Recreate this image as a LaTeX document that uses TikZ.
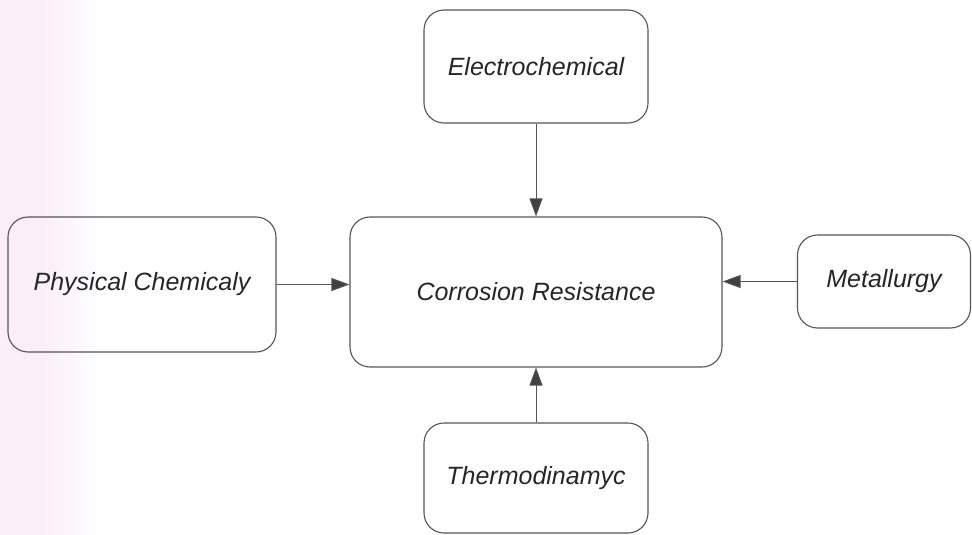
\documentclass[tikz,border=0pt]{standalone}
\usepackage{fontspec}
\setmainfont{Liberation Sans}
\usetikzlibrary{arrows.meta}
\definecolor{edge}{HTML}{555555}
\definecolor{pinkish}{HTML}{FAEEF8}
\begin{document}
\begin{tikzpicture}[x=1pt,y=-1pt,
  box/.style={draw=edge,line width=1.1pt,rounded corners=20pt,fill=none,
    inner sep=0pt,font=\fontsize{25}{29}\selectfont\itshape,text=black!85},
  link/.style={draw=edge,line width=1pt,-{Triangle[length=18pt,width=13pt,fill=black!75]}}]
\useasboundingbox (0,0) rectangle (972,535);
\fill[white] (0,0) rectangle (972,535);
\fill[pinkish] (0,0) rectangle (40,535);
\shade[left color=pinkish,right color=white] (40,0) rectangle (100,535);
\node[box,minimum width=372pt,minimum height=150pt] (cr) at (536,292) {Corrosion Resistance};
\node[box,minimum width=224pt,minimum height=113pt] (el) at (536,66.5) {Electrochemical};
\node[box,minimum width=224pt,minimum height=110pt] (th) at (536,478) {Thermodinamyc};
\node[box,minimum width=268pt,minimum height=135pt] (ph) at (142,284.5) {Physical Chemicaly};
\node[box,minimum width=173pt,minimum height=93pt] (me) at (884,281.5) {Metallurgy};
\draw[link] (el.south) -- (cr.north);
\draw[link] (th.north) -- (cr.south);
\draw[link] (ph.east) -- (ph.east -| cr.west);
\draw[link] (me.west) -- (me.west -| cr.east);
\end{tikzpicture}
\end{document}
